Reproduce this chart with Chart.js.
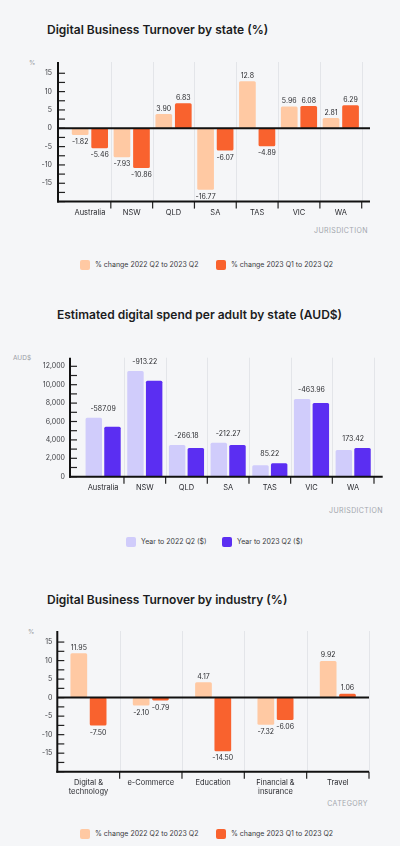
<!DOCTYPE html>
<html><head><meta charset="utf-8">
<script src="https://cdn.jsdelivr.net/npm/chart.js@4.4.0/dist/chart.umd.min.js"></script>
<style>
html,body{margin:0;padding:0;background:#F5F6F8;}
body{width:400px;height:846px;position:relative;overflow:hidden;font-family:Inter,"Noto Sans",sans-serif;}
.t{position:absolute;font-weight:600;font-size:12px;line-height:16px;color:#1b1c21;white-space:nowrap;}
.u{position:absolute;font-size:6.5px;color:#9a9ca3;line-height:8px;}
.ax{position:absolute;font-size:7px;letter-spacing:0.4px;color:#a3a6ad;line-height:8px;white-space:nowrap}
.lg{position:absolute;font-size:7px;color:#3a3b40;line-height:10px;white-space:nowrap;display:flex;align-items:center}
.lg i{display:inline-block;width:10px;height:10px;border-radius:2px;margin-right:5px}
canvas{position:absolute;left:0}
</style></head>
<body>
<div class="t" style="left:47px;top:22px">Digital Business Turnover by state (%)</div>
<div class="u" style="left:29px;top:59px">%</div>
<div class="ax" style="right:32px;top:227px">JURISDICTION</div>
<div class="lg" style="left:80px;top:260px"><i style="background:#FFC9A3"></i>% change 2022 Q2 to 2023 Q2</div>
<div class="lg" style="left:216px;top:260px"><i style="background:#F9622E"></i>% change 2023 Q1 to 2023 Q2</div>
<canvas id="c1" width="400" height="290" style="top:0"></canvas>

<div class="t" style="left:57px;top:307px">Estimated digital spend per adult by state (AUD$)</div>
<div class="u" style="left:13px;top:354px">AUD$</div>
<div class="ax" style="right:17px;top:507px">JURISDICTION</div>
<div class="lg" style="left:126px;top:537px"><i style="background:#D0CCFB"></i>Year to 2022 Q2 ($)</div>
<div class="lg" style="left:222px;top:537px"><i style="background:#5B2EF2"></i>Year to 2023 Q2 ($)</div>
<canvas id="c2" width="400" height="290" style="top:290px"></canvas>

<div class="t" style="left:47px;top:592px">Digital Business Turnover by industry (%)</div>
<div class="u" style="left:28px;top:628px">%</div>
<div class="ax" style="right:32px;top:800px">CATEGORY</div>
<div class="lg" style="left:80px;top:829px"><i style="background:#FFC9A3"></i>% change 2022 Q2 to 2023 Q2</div>
<div class="lg" style="left:216px;top:829px"><i style="background:#F9622E"></i>% change 2023 Q1 to 2023 Q2</div>
<canvas id="c3" width="400" height="266" style="top:580px"></canvas>

<script>
// ---- data ----
const states = ["Australia","NSW","QLD","SA","TAS","VIC","WA"];
const turnoverYoY = ["-1.82","-7.93","3.90","-16.77","12.8","5.96","2.81"];
const turnoverQoQ = ["-5.46","-10.86","6.83","-6.07","-4.89","6.08","6.29"];
const spend2022 = [6400,11490,3450,3700,1240,8450,2900];
const spend2023 = [5430,10440,3120,3450,1450,8010,3120];
const spendChange = ["-587.09","-913.22","-266.18","-212.27","85.22","-463.96","173.42"];
const industries = [["Digital &","technology"],"e-Commerce","Education",["Financial &","insurance"],"Travel"];
const industryYoY = ["11.95","-2.10","4.17","-7.32","9.92"];
const industryQoQ = ["-7.50","-0.79","-14.50","-6.06","1.06"];
const pctTickLabels = [15,10,5,0,-5,-10,-15];
const spendTickLabels = [12000,10000,8000,6000,4000,2000,0];

const PEACH="#FFC9A3", ORANGE="#F9622E", LAV="#D0CCFB", PURPLE="#5B2EF2";
Chart.defaults.font.family = 'Inter, "Noto Sans", sans-serif';
Chart.defaults.animation = false;

const axesPlugin = {
  id:'customAxes',
  beforeDatasetsDraw(chart, args, o){
    const ctx=chart.ctx, x=chart.scales.x, ca=chart.chartArea;
    const half=(x.getPixelForValue(1)-x.getPixelForValue(0))/2;
    ctx.save();
    ctx.strokeStyle='#E3E5E9'; ctx.lineWidth=1;
    for(let i=0;i<x.ticks.length;i++){
      const bx=Math.round(x.getPixelForValue(i)+half)+0.5;
      ctx.beginPath(); ctx.moveTo(bx,o.axisTop); ctx.lineTo(bx,ca.bottom); ctx.stroke();
    }
    ctx.restore();
  },
  afterDatasetsDraw(chart, args, o){
    const ctx=chart.ctx, x=chart.scales.x, y=chart.scales.y, ca=chart.chartArea;
    const half=(x.getPixelForValue(1)-x.getPixelForValue(0))/2;
    ctx.save();
    ctx.strokeStyle='#222'; ctx.lineWidth=1.2;
    for(let v=y.min; v<y.max-1e-9; v+=o.minorStep){
      const py=y.getPixelForValue(v);
      ctx.beginPath(); ctx.moveTo(o.axisX,py); ctx.lineTo(o.axisX+7,py); ctx.stroke();
    }
    for(let i=0;i<x.ticks.length;i++){
      const bx=x.getPixelForValue(i)+half;
      ctx.beginPath(); ctx.moveTo(bx,ca.bottom); ctx.lineTo(bx,ca.bottom+7); ctx.stroke();
    }
    ctx.strokeStyle='#111'; ctx.lineWidth=2;
    ctx.beginPath(); ctx.moveTo(o.axisX,o.axisTop); ctx.lineTo(o.axisX,ca.bottom+1); ctx.stroke();
    ctx.beginPath(); ctx.moveTo(o.axisX-1,ca.bottom); ctx.lineTo(o.axisRight,ca.bottom); ctx.stroke();
    if(y.min<0){
      const z=y.getPixelForValue(0);
      ctx.beginPath(); ctx.moveTo(o.axisX,z); ctx.lineTo(o.axisRight,z); ctx.stroke();
    }
    // data labels
    ctx.fillStyle='#2b2c30'; ctx.font='7px Inter, "Noto Sans", sans-serif';
    ctx.textAlign='center'; ctx.textBaseline='middle';
    if(o.mode==='pm'){
      chart.data.datasets.forEach((ds,di)=>{
        chart.getDatasetMeta(di).data.forEach((bar,i)=>{
          const v=ds.data[i];
          const txt=o.labels[di][i];
          if(v>=0) ctx.fillText(txt,bar.x,bar.y-5.5);
          else ctx.fillText(txt,bar.x,bar.y+7);
        });
      });
    } else {
      const m0=chart.getDatasetMeta(0).data, m1=chart.getDatasetMeta(1).data;
      m0.forEach((b,i)=>{
        const top=Math.min(b.y,m1[i].y);
        ctx.fillText(o.labels[i], x.getPixelForValue(i), top-9);
      });
    }
    ctx.restore();
  }
};

function makeChart(id, cfg){
  new Chart(document.getElementById(id), {
    type:'bar',
    data:{labels:cfg.labels, datasets:cfg.datasets.map(d=>({
      data:d.data, backgroundColor:d.color, borderRadius:1.5, borderSkipped:false,
      categoryPercentage:cfg.catPct, barPercentage:cfg.barPct
    }))},
    plugins:[axesPlugin],
    options:{
      responsive:false, animation:false,
      layout:{padding:{left:0,right:400-cfg.catRight,top:cfg.topPx,bottom:0}},
      plugins:{legend:{display:false},tooltip:{enabled:false},customAxes:cfg.axes},
      scales:{
        x:{offset:true, grid:{display:false,drawTicks:false}, border:{display:false},
           ticks:{padding:cfg.xPad,color:'#2a2b30',font:{size:7.5},maxRotation:0,minRotation:0,autoSkip:false},
           afterFit(s){s.height=cfg.H-cfg.bottomPx;}},
        y:{min:cfg.min,max:cfg.max, grid:{display:false,drawTicks:false}, border:{display:false},
           ticks:{stepSize:cfg.step,padding:cfg.yPad,color:'#3c3d42',font:{size:7},autoSkip:false,
             callback:(v)=>cfg.tickLabels.includes(v)?cfg.fmt(v):''},
           afterFit(s){s.width=cfg.catLeft;}}
      }
    }
  });
}

makeChart('c1',{
  labels:states, H:290, topPx:64.1, bottomPx:201.6, catLeft:69, catRight:361.7,
  catPct:0.933, barPct:0.856, min:-20, max:17.5, step:2.5, yPad:17, xPad:7,
  tickLabels:pctTickLabels, fmt:v=>String(v),
  datasets:[{data:turnoverYoY.map(Number),color:PEACH},{data:turnoverQoQ.map(Number),color:ORANGE}],
  axes:{axisX:58,axisTop:62,axisRight:370,minorStep:2.5,mode:'pm',labels:[turnoverYoY,turnoverQoQ]}
});
makeChart('c2',{
  labels:states, H:290, topPx:67.1, bottomPx:186.7, catLeft:82.3, catRight:374,
  catPct:0.897, barPct:0.88, min:0, max:13000, step:1000, yPad:17.3, xPad:6.5,
  tickLabels:spendTickLabels, fmt:v=>v.toLocaleString('en-US'),
  datasets:[{data:spend2022,color:LAV},{data:spend2023,color:PURPLE}],
  axes:{axisX:70,axisTop:67.7,axisRight:382.7,minorStep:1000,mode:'max',labels:spendChange}
});
makeChart('c3',{
  labels:industries, H:266, topPx:52.8, bottomPx:191.7, catLeft:57.3, catRight:369,
  catPct:0.62, barPct:0.865, min:-20, max:17.5, step:2.5, yPad:5, xPad:7,
  tickLabels:pctTickLabels, fmt:v=>String(v),
  datasets:[{data:industryYoY.map(Number),color:PEACH},{data:industryQoQ.map(Number),color:ORANGE}],
  axes:{axisX:57.3,axisTop:51,axisRight:369,minorStep:2.5,mode:'pm',labels:[industryYoY,industryQoQ]}
});
</script>
</body></html>
